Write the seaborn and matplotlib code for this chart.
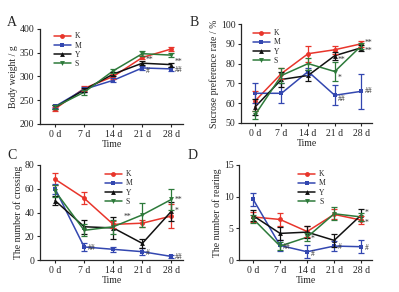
import numpy as np
import pandas as pd
import matplotlib
matplotlib.use("Agg")
import matplotlib.pyplot as plt
import seaborn as sns

# === data ===
days = ["0 d", "7 d", "14 d", "21 d", "28 d"]
groups = ["K", "M", "Y", "S"]

weight_mean = {"K": [232, 275, 300, 340, 358], "M": [237, 273, 292, 318, 316],
               "Y": [235, 272, 305, 328, 325], "S": [236, 267, 312, 348, 345]}
weight_err = {"K": [4, 5, 5, 4, 5], "M": [4, 5, 4, 4, 4],
              "Y": [4, 4, 4, 4, 4], "S": [4, 5, 4, 5, 5]}

sucrose_mean = {"K": [61, 75, 85, 87, 90], "M": [65, 65, 76, 64, 66],
                "Y": [58, 72, 74, 84, 88], "S": [54, 74, 80, 76, 89]}
sucrose_err = {"K": [5, 3, 4, 2, 1.5], "M": [5, 5, 2, 5, 9],
               "Y": [4, 4, 3, 2, 1.5], "S": [2, 4, 3, 5, 1.5]}

crossing_mean = {"K": [68, 52, 30, 31, 37], "M": [60, 11, 9, 7, 3],
                 "Y": [50, 28, 27, 14, 41], "S": [58, 25, 28, 38, 51]}
crossing_err = {"K": [5, 5, 3, 3, 10], "M": [4, 3, 2, 3, 1],
                "Y": [4, 6, 9, 4, 8], "S": [5, 5, 6, 10, 9]}

rearing_mean = {"K": [6.8, 6.4, 4.5, 7.2, 6.3], "M": [9.6, 2.3, 1.3, 2.2, 2.1],
                "Y": [7.0, 4.2, 4.4, 3.1, 7.1], "S": [6.5, 2.2, 3.6, 7.3, 6.8]}
rearing_err = {"K": [0.8, 1.0, 0.9, 0.8, 0.6], "M": [1.0, 0.8, 1.0, 0.8, 1.0],
               "Y": [0.9, 1.0, 1.0, 1.0, 1.0], "S": [0.6, 0.6, 0.6, 1.0, 0.6]}

# significance marks: (day index, y value, text)
marks_a = [(3, 336, "**"), (4, 331, "**"), (3, 311, "#"), (4, 313, "##")]
marks_b = [(3, 82, "**"), (3, 73, "*"), (3, 62, "##"), (4, 90.5, "**"), (4, 86.5, "**"), (4, 66, "##")]
marks_c = [(1, 10, "##"), (2.25, 36, "**"), (3, 6, "#"), (4, 2.5, "##"), (4, 51, "**"), (4, 41, "*")]
marks_d = [(1, 2.1, "##"), (2, 1.0, "#"), (2, 3.4, "*"), (3, 2.1, "#"), (4, 1.9, "#"),
           (4, 7.5, "*"), (4, 5.9, "*")]

colors = {"K": "#e8352b", "M": "#3347b0", "Y": "#111111", "S": "#2d7a3a"}
markers = {"K": "o", "M": "s", "Y": "^", "S": "v"}

sns.set_style("ticks")
plt.rcParams["font.family"] = ["Liberation Serif", "DejaVu Serif"]

W, H = 399, 292
fig = plt.figure(figsize=(W / 100, H / 100), dpi=100)


def px_axes(left, top, right, bottom):
    return fig.add_axes([left / W, 1 - bottom / H, (right - left) / W, (bottom - top) / H])


def panel(ax, means, errs, ylim, yticks, ylabel, marks, legend_loc, legend_anchor):
    rows = []
    for g in groups:
        for i, d in enumerate(days):
            rows.append({"day": i, "value": means[g][i], "group": g})
    df = pd.DataFrame(rows)
    sns.lineplot(data=df, x="day", y="value", hue="group", style="group",
                 palette=colors, markers=markers, dashes=False, ax=ax,
                 linewidth=1.1, markersize=3.5, markeredgewidth=0, errorbar=None)
    for g in groups:
        ax.errorbar(range(len(days)), means[g], yerr=errs[g], fmt="none",
                    ecolor=colors[g], elinewidth=0.9, capsize=2, capthick=0.9)
    for xi, yv, t in marks:
        ax.text(xi + 0.12, yv, t, fontsize=5.5, ha="left", va="center", color="#333333")
    ax.set_xlim(-0.52, 4.4)
    ax.set_ylim(*ylim)
    ax.set_yticks(yticks)
    ax.set_xticks(range(len(days)))
    ax.set_xticklabels(days)
    ax.tick_params(labelsize=7, length=2.5, width=0.8, pad=1.5)
    for s in ["left", "bottom"]:
        ax.spines[s].set_linewidth(0.9)
    sns.despine(ax=ax)
    ax.set_xlabel("Time", fontsize=7, labelpad=1)
    ax.set_ylabel(ylabel, fontsize=7, labelpad=1)
    handles, labels = ax.get_legend_handles_labels()
    ax.legend(handles, labels, loc=legend_loc, bbox_to_anchor=legend_anchor, frameon=False,
              fontsize=5.5, handlelength=2.2, labelspacing=0.15, borderpad=0.2,
              handletextpad=0.5)


ax_a = px_axes(40, 29, 183, 124)
panel(ax_a, weight_mean, weight_err, (200, 400), [200, 250, 300, 350, 400],
      "Body weight / g", marks_a, "upper left", (0.06, 1.02))

ax_b = px_axes(241, 24, 372, 123)
panel(ax_b, sucrose_mean, sucrose_err, (50, 100), [50, 60, 70, 80, 90, 100],
      "Sucrose preference rate / %", marks_b, "upper left", (0.05, 1.0))

ax_c = px_axes(40, 165, 183, 260)
panel(ax_c, crossing_mean, crossing_err, (0, 80), [0, 20, 40, 60, 80],
      "The number of crossing", marks_c, "upper center", (0.55, 1.0))

ax_d = px_axes(239, 165, 372, 260)
panel(ax_d, rearing_mean, rearing_err, (0, 15), [0, 5, 10, 15],
      "The number of rearing", marks_d, "upper center", (0.55, 1.0))

# panel letters
for letter, x, y in [("A", 7, 16), ("B", 190, 16), ("C", 7, 149), ("D", 188, 149)]:
    fig.text(x / W, 1 - y / H, letter, fontsize=10, ha="left", va="top")

plt.savefig("out.png", dpi=100)
plt.close()
